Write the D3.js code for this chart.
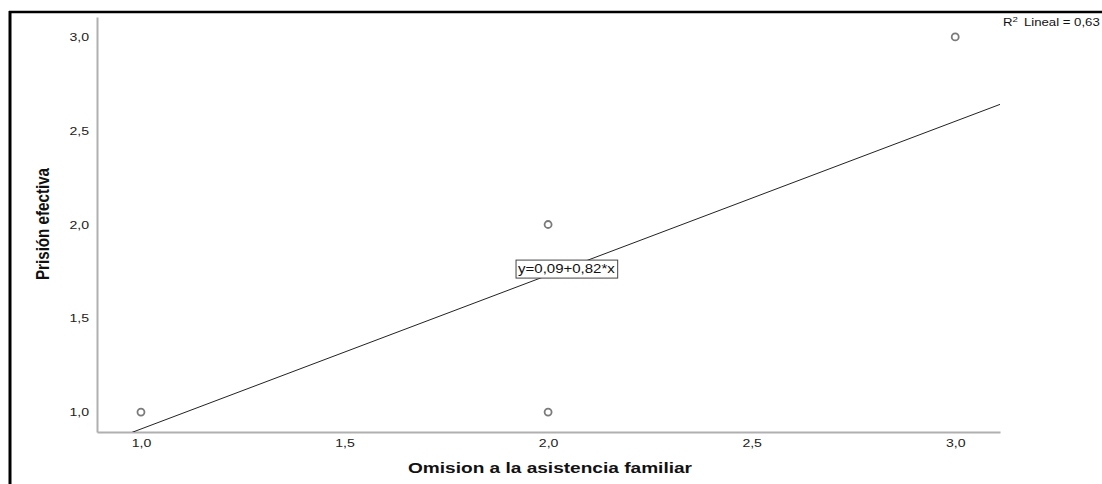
<!DOCTYPE html>
<html lang="es">
<head>
<meta charset="UTF-8">
<title>Prisión efectiva</title>
<script src="https://d3js.org/d3.v7.min.js"></script>
<style>
  body { margin: 0; background: #fff; }
  svg { display: block; }
</style>
</head>
<body>
<svg id="chart" width="1102" height="484"></svg>
<script>
  // data
  var omision = [1, 2, 2, 3];
  var prision = [1, 2, 1, 3];
  var xTicks = [1.0, 1.5, 2.0, 2.5, 3.0];
  var yTicks = [1.0, 1.5, 2.0, 2.5, 3.0];
  var intercept = 0.09, slope = 0.82;
  var r2Label = "0,63";

  var svg = d3.select("#chart");
  var font = "Liberation Sans, Arial, sans-serif";

  // the source picture is stretched sideways, so widen texts a bit
  function stretch(sel, k) {
    sel.each(function() {
      var w = this.getComputedTextLength();
      d3.select(this).attr("textLength", w * k).attr("lengthAdjust", "spacingAndGlyphs");
    });
  }

  // frame lines of the copied figure
  svg.append("line").attr("x1", 9).attr("x2", 1102).attr("y1", 12).attr("y2", 12)
    .attr("stroke", "#000").attr("stroke-width", 2.5);
  svg.append("line").attr("x1", 10).attr("x2", 10).attr("y1", 11).attr("y2", 484)
    .attr("stroke", "#000").attr("stroke-width", 3);

  var plot = { left: 97, right: 1000, top: 17, bottom: 432 };

  var x = d3.scaleLinear().domain([0.892, 3.11]).range([plot.left, plot.right]);
  var y = d3.scaleLinear().domain([0.894, 3.106]).range([plot.bottom, plot.top]);

  var fmt = function(d) { return d3.format(".1f")(d).replace(".", ","); };

  var xAxis = svg.append("g").attr("transform", "translate(0," + plot.bottom + ")")
    .call(d3.axisBottom(x).tickValues(xTicks).tickSize(0).tickPadding(7).tickFormat(fmt));
  var yAxis = svg.append("g").attr("transform", "translate(" + plot.left + ",0)")
    .call(d3.axisLeft(y).tickValues(yTicks).tickSize(0).tickPadding(8).tickFormat(fmt));

  [xAxis, yAxis].forEach(function(a) {
    a.select(".domain").attr("stroke", "#b0b0b0").attr("stroke-width", 2);
    a.selectAll("text").attr("font-family", font)
      .attr("font-size", 11).attr("fill", "#222")
      .call(stretch, 1.28);
  });

  // regression line, clipped to the plot area
  svg.append("clipPath").attr("id", "plotclip")
    .append("rect").attr("x", plot.left).attr("y", plot.top)
    .attr("width", plot.right - plot.left).attr("height", plot.bottom - plot.top);

  var x0 = x.domain()[0], x1 = x.domain()[1];
  svg.append("line")
    .attr("clip-path", "url(#plotclip)")
    .attr("x1", x(x0)).attr("y1", y(intercept + slope * x0))
    .attr("x2", x(x1)).attr("y2", y(intercept + slope * x1))
    .attr("stroke", "#222").attr("stroke-width", 1);

  // points
  svg.append("g").selectAll("circle")
    .data(omision)
    .enter().append("circle")
      .attr("cx", function(d) { return x(d); })
      .attr("cy", function(d, i) { return y(prision[i]); })
      .attr("r", 3.5)
      .attr("fill", "none")
      .attr("stroke", "#7a7a7a")
      .attr("stroke-width", 1.8);

  // equation label
  var eq = svg.append("g").attr("transform", "translate(" + x(2.045) + "," + y(1.765) + ")");
  var eqText = eq.append("text")
    .attr("text-anchor", "middle").attr("dy", "0.36em")
    .attr("font-family", font).attr("font-size", 12.5)
    .attr("fill", "#111")
    .text("y=" + d3.format(".2f")(intercept).replace(".", ",") + "+" + d3.format(".2f")(slope).replace(".", ",") + "*x")
    .call(stretch, 1.2);
  var bb = eqText.node().getBBox();
  eq.insert("rect", "text")
    .attr("x", bb.x - 2).attr("y", bb.y - 2)
    .attr("width", bb.width + 4).attr("height", bb.height + 4)
    .attr("fill", "#fff").attr("stroke", "#444").attr("stroke-width", 1);

  // R2 label
  var r2 = svg.append("text").attr("x", 1003).attr("y", 26)
    .attr("font-family", font).attr("font-size", 11)
    .attr("fill", "#111");
  r2.append("tspan").text("R");
  r2.append("tspan").attr("dy", -4).attr("font-size", 8).text("2");
  r2.append("tspan").attr("dy", 4).attr("dx", 2).text(" Lineal = " + r2Label);
  r2.attr("transform", "translate(1003,0) scale(1.2,1) translate(-1003,0)");

  // axis titles
  svg.append("text")
    .attr("x", 550).attr("y", 473)
    .attr("text-anchor", "middle")
    .attr("font-family", font).attr("font-weight", "bold")
    .attr("font-size", 15).attr("fill", "#111")
    .text("Omision a la asistencia familiar")
    .attr("textLength", 284).attr("lengthAdjust", "spacingAndGlyphs");

  svg.append("text")
    .attr("transform", "translate(49,224) rotate(-90)")
    .attr("text-anchor", "middle")
    .attr("font-family", font).attr("font-weight", "bold")
    .attr("font-size", 18).attr("fill", "#111")
    .text("Prisión efectiva")
    .attr("textLength", 112).attr("lengthAdjust", "spacingAndGlyphs");
</script>
</body>
</html>
